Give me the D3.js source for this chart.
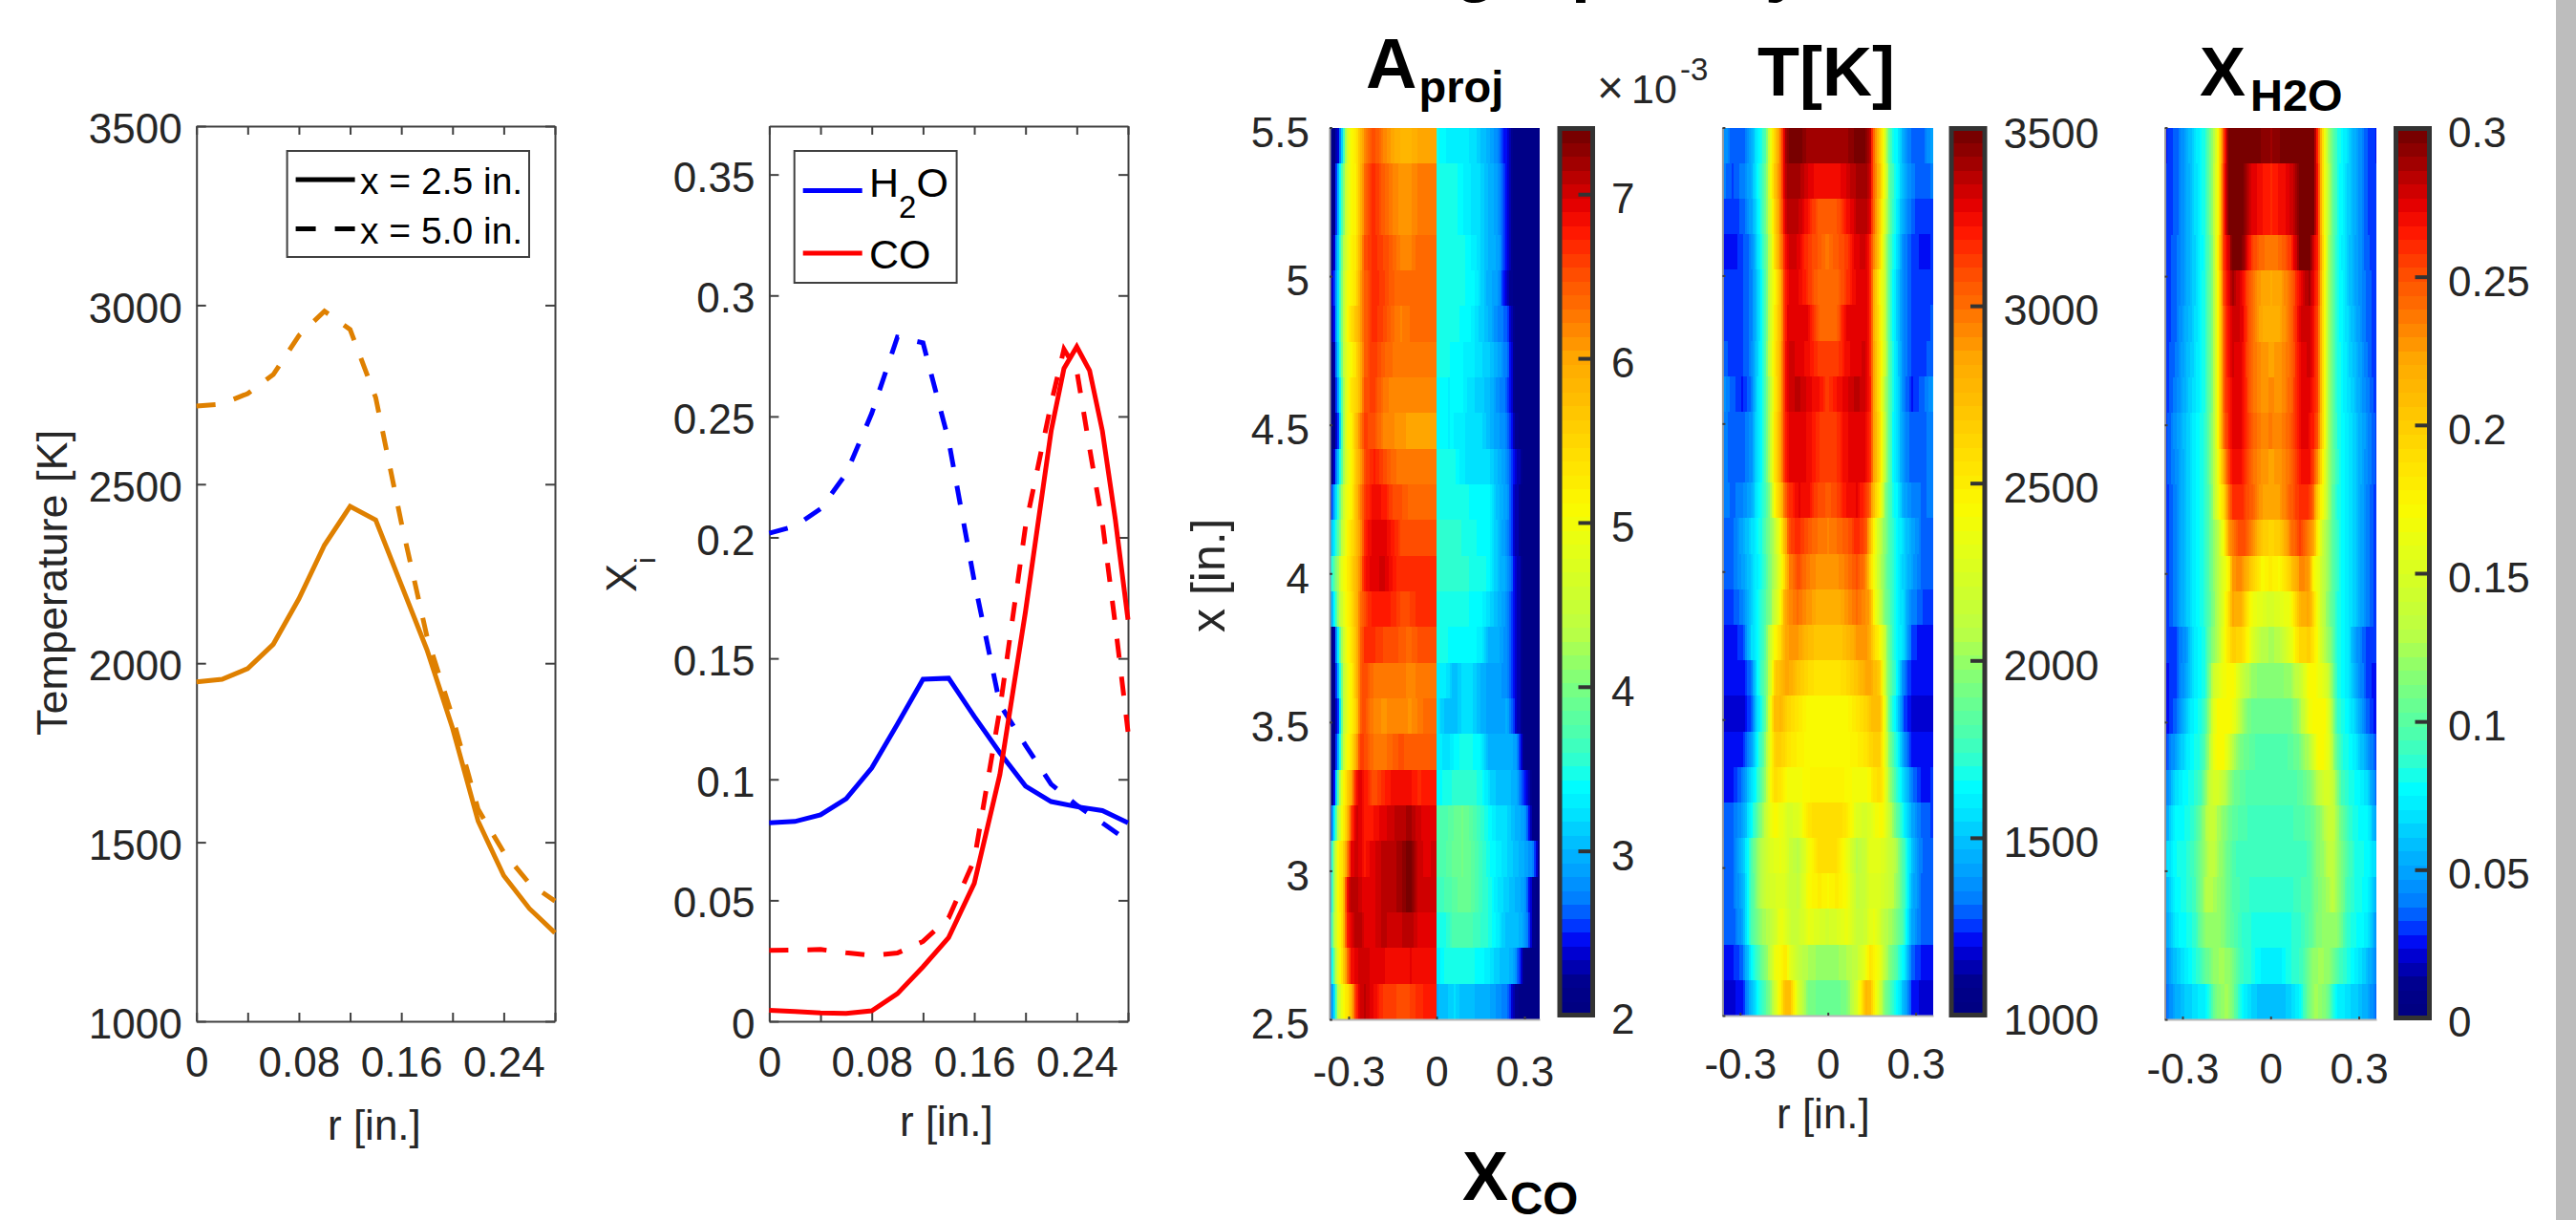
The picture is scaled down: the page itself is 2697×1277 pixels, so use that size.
<!DOCTYPE html>
<html>
<head>
<meta charset="utf-8">
<script src="https://cdn.jsdelivr.net/npm/d3@7"></script>
<style>
  html, body { margin: 0; padding: 0; background: #fff; overflow: hidden; }
  svg { display: block; font-family: "Liberation Sans", Arial, sans-serif; }
</style>
</head>
<body>
<svg id="chart" width="2697" height="1277"></svg>
<script>
// line plots, r in inches
const rGrid = [0, 0.02, 0.04, 0.06, 0.08, 0.1, 0.12, 0.14, 0.16, 0.18, 0.2, 0.22, 0.24, 0.26, 0.28];
const tempX25 = [1948, 1955, 1985, 2053, 2180, 2330, 2438, 2400, 2219, 2038, 1819, 1559, 1407, 1315, 1247];
const tempX50 = [2718, 2724, 2753, 2806, 2915, 2983, 2932, 2742, 2393, 2075, 1850, 1592, 1472, 1385, 1336];
const h2oX25 = [0.082, 0.0826, 0.0853, 0.092, 0.1047, 0.1228, 0.1414, 0.1418, 0.126, 0.111, 0.0972, 0.0908, 0.0887, 0.0871, 0.082];
const h2oX50 = [0.2017, 0.2046, 0.2118, 0.2263, 0.2513, 0.2828, 0.2804, 0.24, 0.182, 0.131, 0.1141, 0.098, 0.0893, 0.082, 0.0745];
const coGrid = [0, 0.02, 0.04, 0.06, 0.08, 0.1, 0.12, 0.14, 0.16, 0.18, 0.2, 0.22, 0.23, 0.24, 0.25, 0.26, 0.27, 0.28];
const coX25 = [0.0045, 0.004, 0.0035, 0.0033, 0.0043, 0.0114, 0.0225, 0.0346, 0.057, 0.102, 0.1694, 0.244, 0.2698, 0.2788, 0.269, 0.244, 0.2078, 0.166];
const coX50 = [0.0293, 0.0294, 0.0297, 0.0283, 0.0272, 0.0282, 0.033, 0.0427, 0.0667, 0.129, 0.2046, 0.2553, 0.2778, 0.269, 0.2369, 0.2062, 0.1643, 0.1197];

// heat map rows run from x = 5.5 in. at the top down to x = 2.5 in.
const rowCount = 25;
const aprojRadii = [-0.365, -0.35, -0.335, -0.32, -0.305, -0.29, -0.275, -0.26, -0.245, -0.215, -0.18, -0.15, -0.12, -0.09, -0.06, -0.03, 0];
const aprojRows = [
  [2.1,2.1,2.4,3.3,4.6,5.1,5.3,5.8,6.15,6.55,6.2,6.0,5.85,5.85,6.0,6.0,6.0],
  [2.1,2.1,3.0,3.9,4.7,5.1,5.2,5.8,6.3,6.7,6.4,6.2,6.1,6.1,6.25,6.25,6.25],
  [2.1,2.1,3.0,3.9,4.7,5.1,5.2,5.8,6.3,6.7,6.4,6.2,6.1,6.1,6.25,6.25,6.25],
  [2.1,2.3,3.2,4.1,4.8,5.2,5.3,5.9,6.5,6.7,6.55,6.4,6.2,6.2,6.35,6.35,6.35],
  [2.1,2.5,3.3,4.2,5.0,5.2,5.4,6.0,6.4,6.7,6.6,6.4,6.35,6.35,6.35,6.35,6.35],
  [2.1,2.4,3.3,4.2,5.0,5.4,5.7,6.0,6.4,6.7,6.55,6.35,6.2,6.3,6.35,6.35,6.35],
  [2.1,2.2,3.2,4.2,4.9,5.1,5.4,5.9,6.4,6.65,6.4,6.3,6.25,6.25,6.25,6.25,6.25],
  [2.1,2.1,2.9,4.0,4.9,5.3,5.5,5.9,6.5,6.6,6.3,6.15,6.15,6.15,6.15,6.15,6.15],
  [2.1,2.1,2.6,4.0,5.0,5.2,5.7,6.2,6.6,6.5,6.2,6.15,6.1,6.0,6.0,6.0,6.0],
  [2.1,2.3,3.1,4.0,4.8,5.2,5.6,6.0,6.5,6.75,6.55,6.35,6.25,6.25,6.25,6.25,6.25],
  [2.2,2.9,3.6,4.4,5.0,5.2,5.7,6.2,6.6,6.85,6.8,6.55,6.5,6.35,6.35,6.35,6.35],
  [2.8,3.3,3.8,4.5,5.1,5.4,5.7,6.1,6.7,6.95,6.95,6.75,6.55,6.55,6.55,6.55,6.55],
  [3.1,3.8,4.3,4.9,5.2,5.5,5.8,6.2,6.8,6.95,7.0,6.8,6.65,6.65,6.65,6.65,6.65],
  [2.7,3.3,4.2,4.7,5.1,5.4,5.8,6.3,6.55,6.8,6.8,6.7,6.55,6.55,6.7,6.7,6.7],
  [2.1,2.2,3.4,4.4,5.0,5.3,5.7,6.4,6.65,6.65,6.55,6.5,6.45,6.35,6.5,6.5,6.5],
  [2.1,2.1,3.0,4.2,4.9,5.2,5.7,6.4,6.55,6.3,6.25,6.3,6.3,6.15,6.25,6.3,6.3],
  [2.1,2.1,2.6,4.2,4.9,5.2,5.5,6.45,6.5,6.2,6.1,6.2,6.2,6.1,6.25,6.35,6.35],
  [2.1,2.1,3.0,4.3,5.0,5.3,5.9,6.65,6.55,6.3,6.25,6.4,6.5,6.4,6.4,6.4,6.4],
  [2.1,2.3,3.9,5.0,5.5,6.0,6.8,6.95,6.8,6.5,6.7,6.85,6.85,6.85,6.7,6.8,6.8],
  [2.1,3.2,4.4,5.1,5.7,6.6,7.0,6.95,6.75,6.8,6.95,7.05,7.1,7.2,7.0,6.9,6.9],
  [2.7,4.2,5.1,5.4,6.2,6.9,7.05,6.95,6.8,6.95,7.1,7.12,7.2,7.4,7.0,6.95,7.05],
  [2.7,4.2,5.1,5.5,6.85,7.1,7.1,7.0,6.95,6.95,7.1,7.12,7.2,7.4,7.0,7.05,7.05],
  [3.0,4.3,5.0,5.5,6.7,6.95,7.1,7.1,6.95,6.95,7.1,7.0,7.05,7.15,6.95,6.95,6.95],
  [2.8,3.9,4.9,5.4,6.3,6.85,6.95,7.0,7.05,6.9,6.9,6.85,6.85,6.9,6.85,6.85,6.85],
  [2.6,3.1,4.5,5.0,5.3,5.8,6.7,7.0,7.1,6.9,6.6,6.6,6.5,6.55,6.7,6.75,6.75]
];
const xcoRadii = [0, 0.03, 0.06, 0.09, 0.12, 0.15, 0.18, 0.21, 0.24, 0.27, 0.3, 0.33, 0.352];
const xcoRows = [
  [3.45,3.35,3.3,3.3,3.25,3.1,2.95,2.75,2.4,2.1,2.1,2.1,2.1],
  [3.5,3.5,3.5,3.35,3.25,3.2,3.0,2.85,2.4,2.1,2.1,2.1,2.1],
  [3.5,3.5,3.5,3.35,3.25,3.2,3.0,2.85,2.4,2.1,2.1,2.1,2.1],
  [3.5,3.5,3.5,3.45,3.35,3.2,3.0,2.9,2.4,2.1,2.1,2.1,2.1],
  [3.5,3.5,3.5,3.45,3.4,3.2,2.95,2.85,2.3,2.1,2.1,2.1,2.1],
  [3.5,3.5,3.5,3.4,3.35,3.15,3.0,2.75,2.6,2.1,2.1,2.1,2.1],
  [3.5,3.5,3.35,3.35,3.3,3.2,3.1,2.9,2.7,2.1,2.1,2.1,2.1],
  [3.35,3.35,3.35,3.35,3.2,3.15,3.05,2.8,2.65,2.15,2.1,2.1,2.1],
  [3.35,3.35,3.35,3.3,3.2,3.2,3.05,2.85,2.75,2.2,2.1,2.1,2.1],
  [3.5,3.5,3.45,3.3,3.2,3.2,3.2,3.0,2.8,2.4,2.1,2.1,2.1],
  [3.5,3.5,3.5,3.5,3.4,3.4,3.35,3.05,2.85,2.3,2.1,2.1,2.1],
  [3.6,3.6,3.6,3.5,3.5,3.4,3.4,3.05,2.8,2.3,2.1,2.1,2.1],
  [3.6,3.6,3.6,3.55,3.5,3.5,3.4,3.05,2.9,2.4,2.1,2.1,2.1],
  [3.5,3.5,3.5,3.5,3.4,3.4,3.2,3.0,2.8,2.4,2.1,2.1,2.1],
  [3.45,3.45,3.4,3.4,3.4,3.3,3.0,2.95,2.8,2.4,2.1,2.1,2.1],
  [3.35,3.3,3.05,3.2,3.2,3.0,2.9,2.9,2.75,2.4,2.1,2.1,2.1],
  [3.3,3.05,3.05,3.2,3.2,3.0,2.9,2.85,2.95,2.4,2.1,2.1,2.1],
  [3.35,3.2,3.35,3.5,3.45,3.35,3.0,3.0,3.0,2.9,2.1,2.1,2.1],
  [3.4,3.45,3.55,3.6,3.55,3.5,3.2,3.05,3.05,2.95,2.5,2.1,2.1],
  [3.7,3.75,3.85,3.95,3.8,3.6,3.4,3.2,3.2,3.0,2.85,2.1,2.1],
  [3.75,3.75,3.9,3.95,3.85,3.65,3.45,3.3,3.2,3.05,2.95,2.7,2.1],
  [3.6,3.7,3.8,3.95,3.85,3.65,3.5,3.25,3.15,3.0,2.85,2.2,2.1],
  [3.5,3.5,3.75,3.75,3.7,3.6,3.5,3.3,3.05,3.05,2.9,2.2,2.1],
  [3.3,3.45,3.5,3.5,3.45,3.4,3.3,3.1,3.05,2.85,2.1,2.1,2.1],
  [3.0,3.05,3.2,3.05,3.05,2.95,2.95,2.8,2.7,2.2,2.1,2.1,2.1]
];
// temperature and water are read on one side and mirrored about r = 0
const mirrorRadii = [0.36, 0.325, 0.29, 0.26, 0.24, 0.225, 0.21, 0.195, 0.18, 0.16, 0.145, 0.13, 0.1, 0.065, 0.03, 0];
const tempRows = [
  [1420,1290,1290,1420,1620,1690,1840,2300,2650,3000,3370,3460,3490,3410,3400,3410],
  [1330,1270,1330,1450,1620,1740,1900,2350,2700,3000,3350,3400,3400,3300,3240,3240],
  [1260,1260,1280,1420,1580,1720,1920,2250,2650,2980,3300,3370,3350,3220,3050,3040],
  [1240,1210,1270,1340,1550,1680,1870,2150,2600,2930,3200,3320,3300,3130,3060,2980],
  [1250,1250,1270,1340,1520,1640,1840,2200,2450,2800,3190,3300,3280,3150,3010,3000],
  [1280,1250,1260,1340,1520,1640,1840,2200,2500,2800,3200,3300,3280,3270,3030,3000],
  [1300,1250,1260,1340,1540,1660,1860,2220,2520,2820,3200,3310,3300,3240,3130,3130],
  [1400,1290,1230,1330,1550,1660,1860,2100,2500,2820,3220,3320,3360,3290,3230,3130],
  [1340,1290,1290,1370,1570,1640,1850,2150,2550,2850,3180,3270,3300,3260,3150,3120],
  [1340,1290,1290,1370,1570,1650,1850,2150,2550,2850,3180,3270,3300,3260,3150,3120],
  [1340,1300,1350,1420,1620,1690,1800,2000,2450,2700,3040,3150,3270,3240,3090,3060],
  [1280,1300,1420,1550,1640,1700,1830,1980,2120,2440,2800,3100,3170,3060,2990,2950],
  [1290,1290,1400,1530,1620,1710,1800,1950,2080,2380,2650,2950,3090,2970,2900,2890],
  [1270,1270,1340,1530,1640,1710,1840,1950,2150,2430,2850,2920,3000,2900,2800,2800],
  [1230,1220,1250,1550,1640,1720,1880,2150,2430,2600,2820,2900,2880,2750,2680,2680],
  [1230,1200,1210,1330,1620,1770,1910,2200,2650,2750,2850,2840,2700,2600,2530,2530],
  [1190,1170,1170,1280,1550,1680,1880,2350,2750,2760,2680,2620,2530,2430,2420,2420],
  [1210,1200,1230,1400,1640,1780,1980,2350,2650,2650,2600,2540,2470,2430,2430,2430],
  [1240,1210,1330,1560,1700,1860,2050,2400,2600,2540,2430,2380,2380,2440,2480,2480],
  [1270,1290,1420,1640,1830,1980,2150,2360,2430,2360,2280,2230,2280,2540,2600,2600],
  [1300,1300,1480,1780,2000,2100,2170,2250,2300,2330,2300,2170,2080,2380,2590,2590],
  [1290,1290,1450,1780,1980,2100,2170,2220,2250,2290,2260,2170,2120,2420,2500,2440],
  [1280,1280,1420,1780,1920,2000,2050,2100,2200,2350,2300,2180,2150,2350,2250,2200],
  [1220,1220,1300,1640,1760,1880,1960,2120,2340,2440,2540,2340,2130,2050,2000,2000],
  [1170,1180,1220,1480,1620,1720,1840,1960,2180,2480,2750,2760,2230,1930,1880,1880]
];
const h2oRows = [
  [.027,.034,.05,.068,.078,.085,.105,.125,.172,.258,.3,.3,.3,.3,.295,.29],
  [.028,.034,.05,.066,.076,.085,.105,.13,.172,.262,.295,.3,.3,.276,.268,.262],
  [.028,.034,.05,.066,.076,.085,.105,.13,.172,.262,.295,.3,.3,.276,.268,.262],
  [.029,.035,.05,.064,.075,.083,.103,.125,.18,.262,.276,.3,.298,.256,.24,.235],
  [.029,.036,.05,.064,.076,.085,.103,.125,.175,.256,.272,.289,.272,.24,.222,.22],
  [.029,.036,.053,.066,.076,.085,.103,.125,.175,.25,.268,.28,.276,.24,.22,.22],
  [.029,.038,.055,.068,.077,.085,.103,.125,.175,.25,.268,.278,.272,.24,.228,.223],
  [.029,.04,.057,.07,.077,.085,.103,.125,.175,.25,.265,.274,.272,.242,.226,.232],
  [.03,.045,.06,.073,.08,.085,.105,.125,.175,.245,.262,.272,.272,.245,.232,.235],
  [.03,.043,.06,.073,.08,.088,.105,.125,.165,.223,.255,.268,.268,.24,.228,.223],
  [.03,.04,.06,.073,.08,.085,.1,.125,.16,.195,.24,.258,.26,.245,.225,.223],
  [.03,.04,.06,.073,.08,.088,.1,.12,.13,.172,.223,.235,.255,.235,.2,.195],
  [.03,.04,.06,.073,.08,.088,.1,.12,.13,.16,.172,.228,.232,.2,.172,.18],
  [.03,.04,.06,.073,.08,.085,.1,.115,.13,.16,.19,.222,.215,.165,.155,.146],
  [.028,.032,.047,.072,.079,.083,.105,.12,.13,.165,.185,.198,.195,.155,.13,.125],
  [.025,.032,.05,.072,.079,.085,.112,.14,.155,.165,.172,.172,.14,.12,.115,.115],
  [.024,.036,.062,.077,.083,.09,.12,.155,.172,.172,.172,.165,.125,.105,.105,.105],
  [.03,.05,.07,.08,.085,.1,.125,.16,.17,.17,.15,.13,.11,.1,.095,.095],
  [.036,.068,.078,.085,.093,.115,.135,.15,.148,.13,.12,.11,.1,.095,.095,.095],
  [.047,.078,.08,.09,.105,.122,.138,.14,.125,.115,.108,.102,.095,.093,.093,.093],
  [.062,.079,.083,.095,.11,.122,.132,.132,.122,.115,.105,.095,.09,.09,.09,.09],
  [.052,.076,.083,.093,.11,.125,.132,.125,.12,.113,.105,.098,.093,.088,.088,.088],
  [.045,.073,.079,.087,.105,.118,.12,.12,.118,.115,.105,.1,.088,.084,.08,.08],
  [.04,.06,.073,.083,.09,.1,.11,.12,.122,.122,.12,.11,.09,.084,.073,.072],
  [.036,.052,.062,.068,.072,.074,.084,.105,.115,.122,.122,.11,.078,.064,.057,.057]
];

// tick labels
const tempTicks = [1000, 1500, 2000, 2500, 3000, 3500];
const moleTicks = [0, 0.05, 0.1, 0.15, 0.2, 0.25, 0.3, 0.35];
const radialTicks = [0, 0.04, 0.08, 0.12, 0.16, 0.2, 0.24, 0.28];
const radialLabels = ['0', '', '0.08', '', '0.16', '', '0.24', ''];
const heightTicks = [2.5, 3, 3.5, 4, 4.5, 5, 5.5];
const mapTicks = [-0.3, 0, 0.3];
const mapLabels = ['-0.3', '0', '0.3'];
const aprojBarTicks = [2, 3, 4, 5, 6, 7];
const h2oBarTicks = [0, 0.05, 0.1, 0.15, 0.2, 0.25, 0.3];

// colormap as it appears in the colour bars (bar fraction, colour)
const mapFractions = [0, 0.03, 0.06, 0.075, 0.09, 0.105, 0.12, 0.156, 0.19, 0.226, 0.257, 0.28, 0.31, 0.367, 0.4, 0.43, 0.485, 0.53, 0.574, 0.617, 0.66, 0.706, 0.742, 0.772, 0.804, 0.839, 0.866, 0.892, 0.919, 0.949, 0.976, 1];
const mapColours = ['#000082', '#00008c', '#0000c8', '#0000f0', '#0028ff', '#0050ff', '#0078ff', '#00a0ff', '#00beff', '#00e6ff', '#00ffff', '#28ffd7', '#46ffb4', '#78ff82', '#96ff64', '#b9ff46', '#d2ff28', '#e6ff14', '#fafa00', '#ffe600', '#ffd200', '#ffb900', '#ffaa00', '#ff8c00', '#ff6e00', '#ff5000', '#ff3200', '#ff1400', '#e60000', '#be0000', '#960000', '#780000'];

const INK = '#262626';
const FRAME = '#404040';
const ORANGE = '#df8000';
const BAR_LEVELS = 64;
const FONT = 44;

const svg = d3.select('#chart');

const jet = d3.scaleLinear().domain(mapFractions).range(mapColours).clamp(true);
function levelColour(f) {
  const level = Math.min(BAR_LEVELS - 1, Math.max(0, Math.floor(f * BAR_LEVELS)));
  return jet(level / (BAR_LEVELS - 1));
}

function styleAxis(g, size) {
  g.attr('font-family', null).attr('font-size', size);
  g.selectAll('text').attr('fill', INK);
  g.selectAll('.tick line').attr('stroke', FRAME).attr('stroke-width', 2);
  g.select('.domain').attr('stroke', FRAME).attr('stroke-width', 2);
}

function framedAxes(left, right, top, bottom, yDomain, yTicks, yDy) {
  const x = d3.scaleLinear().domain([0, 0.28]).range([left, right]);
  const y = d3.scaleLinear().domain(yDomain).range([bottom, top]);
  const g = svg.append('g');
  const yFormat = v => String(v);

  g.append('g').attr('transform', `translate(0,${bottom})`)
    .call(d3.axisBottom(x).tickValues(radialTicks).tickSizeInner(-9).tickSizeOuter(0).tickPadding(27)
      .tickFormat((d, i) => radialLabels[i]))
    .call(styleAxis, FONT);
  g.append('g').attr('transform', `translate(0,${top})`)
    .call(d3.axisTop(x).tickValues(radialTicks).tickSizeInner(-9).tickSizeOuter(0).tickFormat(''))
    .call(styleAxis, FONT);
  g.append('g').attr('transform', `translate(${left},0)`)
    .call(d3.axisLeft(y).tickValues(yTicks).tickSizeInner(-10).tickSizeOuter(0).tickPadding(15).tickFormat(yFormat))
    .call(styleAxis, FONT)
    .selectAll('text').attr('dy', yDy);
  g.append('g').attr('transform', `translate(${right},0)`)
    .call(d3.axisRight(y).tickValues(yTicks).tickSizeInner(-10).tickSizeOuter(0).tickFormat(''))
    .call(styleAxis, FONT);
  return { x, y, g };
}

function drawSeries(panel, rs, values, colour, dashed) {
  const line = d3.line().x((d, i) => panel.x(rs[i])).y(d => panel.y(d));
  panel.g.append('path')
    .attr('d', line(values))
    .attr('fill', 'none')
    .attr('stroke', colour)
    .attr('stroke-width', 5)
    .attr('stroke-linejoin', 'miter')
    .attr('stroke-dasharray', dashed ? '20 20' : null);
}

function rich(x, y, parts, attrs) {
  // parts: text, font size, x (optional), y offset from the previous part
  const t = svg.append('text').attr('x', x).attr('y', y).attr('fill', INK);
  Object.entries(attrs || {}).forEach(([k, v]) => t.attr(k, v));
  parts.forEach(p => {
    const s = t.append('tspan').attr('font-size', p[1]).text(p[0]);
    if (p[2] != null) s.attr('x', p[2]);
    if (p[3] != null) s.attr('dy', p[3]);
  });
  return t;
}

// temperature profiles
const tempPanel = framedAxes(205.7, 581, 132, 1069, [1000, 3500], tempTicks, '0.4em');
drawSeries(tempPanel, rGrid, tempX25, ORANGE, false);
drawSeries(tempPanel, rGrid, tempX50, ORANGE, true);

// mole fraction profiles
const molePanel = framedAxes(805.4, 1181, 132, 1069, [0, 0.37], moleTicks, '0.4em');
drawSeries(molePanel, rGrid, h2oX25, '#0000ff', false);
drawSeries(molePanel, rGrid, h2oX50, '#0000ff', true);
drawSeries(molePanel, coGrid, coX25, '#ff0000', false);
drawSeries(molePanel, coGrid, coX50, '#ff0000', true);

// legends
function legendBox(x, y, w, h, items) {
  const g = svg.append('g');
  g.append('rect').attr('x', x).attr('y', y).attr('width', w).attr('height', h)
    .attr('fill', '#fff').attr('stroke', FRAME).attr('stroke-width', 2);
  items.forEach(d => {
    g.append('line').attr('x1', x + 9).attr('x2', x + 71).attr('y1', d.y).attr('y2', d.y)
      .attr('stroke', d.colour).attr('stroke-width', 5)
      .attr('stroke-dasharray', d.dashed ? '21 20' : null);
  });
}
legendBox(300.6, 158, 253.4, 111, [
  { y: 188, colour: '#000', dashed: false },
  { y: 239.6, colour: '#000', dashed: true }
]);
rich(377, 203, [['x = 2.5 in.', 39]], { fill: '#000' });
rich(377, 255, [['x = 5.0 in.', 39]], { fill: '#000' });
legendBox(831.7, 158, 169.9, 138, [
  { y: 199.6, colour: '#0000ff', dashed: false },
  { y: 265, colour: '#ff0000', dashed: false }
]);
rich(910, 206, [['H', 43], ['2', 33, null, 22], ['O', 43, null, -22]], { fill: '#000' });
rich(910, 281, [['CO', 43]], { fill: '#000' });

// axis titles of the line plots
rich(0, 0, [['Temperature [K]', 45]], { transform: 'translate(70,770) rotate(-90)' });
rich(0, 0, [['X', 45], ['i', 30, null, 20]], { transform: 'translate(666,620) rotate(-90)' });
rich(343, 1193, [['r [in.]', 44]]);
rich(942, 1189, [['r [in.]', 44]]);
rich(1860, 1181, [['r [in.]', 44]]);

// heat maps
function heatCells(box, xMap, yMap, halves, lo, hi) {
  const band = d3.scaleBand().domain(d3.range(rowCount)).range([box.top, box.bottom]);
  const strip = 2;
  halves.forEach(h => {
    const from = xMap(h.from);
    const to = xMap(h.to);
    const left = Math.min(from, to);
    const right = Math.max(from, to);
    const px = d3.range(left, right, strip);
    h.rows.forEach((row, i) => {
      const profile = d3.scaleLinear().domain(h.radii).range(row).clamp(true);
      svg.append('g').selectAll('rect').data(px).join('rect')
        .attr('x', d => d)
        .attr('y', band(i))
        .attr('width', d => Math.min(strip, right - d) + 0.4)
        .attr('height', band.bandwidth() + 0.4)
        .attr('shape-rendering', 'crispEdges')
        .attr('fill', d => levelColour((profile(h.mirror ? Math.abs(xMap.invert(d + 1)) : xMap.invert(d + 1)) - lo) / (hi - lo)));
    });
  });
}

function heatAxes(box, xMap, yMap, xPad, withY) {
  const g = svg.append('g');
  const bottomAxis = g.append('g').attr('transform', `translate(0,${box.bottom})`)
    .call(d3.axisBottom(xMap).tickValues(mapTicks).tickSizeInner(-3).tickSizeOuter(0).tickPadding(xPad)
      .tickFormat((d, i) => mapLabels[i]))
    .call(styleAxis, FONT);
  bottomAxis.select('.domain').attr('stroke', '#b8b8b8');
  const leftAxis = g.append('g').attr('transform', `translate(${box.left},0)`)
    .call(d3.axisLeft(yMap).tickValues(heightTicks).tickSizeInner(-3).tickSizeOuter(0).tickPadding(21)
      .tickFormat(d => withY ? String(d) : ''))
    .call(styleAxis, FONT);
  leftAxis.select('.domain').attr('stroke', '#9a9a9a');
  leftAxis.selectAll('text').attr('dy', '0.45em');
}

function colourBar(left, right, top, bottom, domain, ticks, fontSize) {
  const y = d3.scaleLinear().domain(domain).range([bottom, top]);
  const g = svg.append('g');
  const band = d3.scaleBand().domain(d3.range(BAR_LEVELS)).range([bottom, top]);
  g.selectAll('rect').data(d3.range(BAR_LEVELS)).join('rect')
    .attr('x', left)
    .attr('y', d => band(d))
    .attr('width', right - left)
    .attr('height', band.bandwidth() + 0.5)
    .attr('shape-rendering', 'crispEdges')
    .attr('fill', d => levelColour((d + 0.5) / BAR_LEVELS));
  const axis = g.append('g').attr('transform', `translate(${right},0)`)
    .call(d3.axisRight(y).tickValues(ticks).tickSizeInner(-15).tickSizeOuter(0).tickPadding(19.5).tickFormat(d => String(d)))
    .call(styleAxis, fontSize);
  axis.select('.domain').remove();
  axis.selectAll('.tick line').attr('stroke', '#333').attr('stroke-width', 4);
  axis.selectAll('text').attr('dy', '0.44em');
  g.append('rect').attr('x', left).attr('y', top).attr('width', right - left).attr('height', bottom - top)
    .attr('fill', 'none').attr('stroke', '#333').attr('stroke-width', 5);
}

// A_proj (r < 0) and X_CO (r > 0) share one map
const aprojBox = { left: 1392, right: 1612, top: 133.5, bottom: 1067 };
const aprojX = d3.scaleLinear().domain([-0.365, 0.352]).range([aprojBox.left, aprojBox.right]);
const aprojY = d3.scaleLinear().domain([2.5, 5.5]).range([aprojBox.bottom, aprojBox.top]);
heatCells(aprojBox, aprojX, aprojY, [
  { from: -0.365, to: 0, radii: aprojRadii, rows: aprojRows },
  { from: 0, to: 0.352, radii: xcoRadii, rows: xcoRows }
], 2, 7.4);
heatAxes(aprojBox, aprojX, aprojY, 38.5, true);
colourBar(1633, 1667.5, 134.5, 1062.5, [2, 7.4], aprojBarTicks, FONT);

const tempBox = { left: 1803.4, right: 2024, top: 133.5, bottom: 1063 };
const tempX = d3.scaleLinear().domain([-0.36, 0.36]).range([tempBox.left, tempBox.right]);
const tempY = d3.scaleLinear().domain([2.5, 5.5]).range([tempBox.bottom, tempBox.top]);
heatCells(tempBox, tempX, tempY, [
  { from: -0.36, to: 0.36, radii: mirrorRadii, rows: tempRows, mirror: true }
], 1000, 3500);
heatAxes(tempBox, tempX, tempY, 34.5, false);
colourBar(2043, 2078, 134.5, 1062.5, [1000, 3500], tempTicks, 45);

const h2oBox = { left: 2266.5, right: 2488, top: 133.5, bottom: 1067 };
const h2oX = d3.scaleLinear().domain([-0.36, 0.36]).range([h2oBox.left, h2oBox.right]);
const h2oY = d3.scaleLinear().domain([2.5, 5.5]).range([h2oBox.bottom, h2oBox.top]);
heatCells(h2oBox, h2oX, h2oY, [
  { from: -0.36, to: 0.36, radii: mirrorRadii, rows: h2oRows, mirror: true }
], 0, 0.3);
heatAxes(h2oBox, h2oX, h2oY, 35.5, false);
colourBar(2508.5, 2543.5, 134.5, 1065.5, [0, 0.3], h2oBarTicks, FONT);

// colour bar multiplier
rich(1672, 108, [['×', 48], ['10', 43, 1708], ['-3', 33, 1759, -24]]);
rich(0, 0, [['x [in.]', 50]], { transform: 'translate(1282,662) rotate(-90)' });

// bold panel titles
const boldTitle = { 'font-weight': 'bold', fill: '#000' };
rich(1430, 92, [['A', 74], ['proj', 47, 1485.6, 15]], boldTitle);
rich(1840, 100, [['T[K]', 72]], boldTitle);
rich(2303, 100, [['X', 72], ['H2O', 47, 2356, 15.5]], boldTitle);
rich(1531, 1256, [['X', 72], ['CO', 47.6, 1581, 15]], boldTitle);

// the figure's main title is cut by the top edge; only its descenders show
[['g', 1545], ['p', 1667], ['y', 1868]].forEach(d => {
  rich(d[1], -12, [[d[0], 72]], Object.assign({ 'text-anchor': 'middle' }, boldTitle));
});

// grey strip along the right edge of the screenshot
svg.append('rect').attr('x', 2676).attr('y', 0).attr('width', 21).attr('height', 1277).attr('fill', '#bdbdbd');
</script>
</body>
</html>
